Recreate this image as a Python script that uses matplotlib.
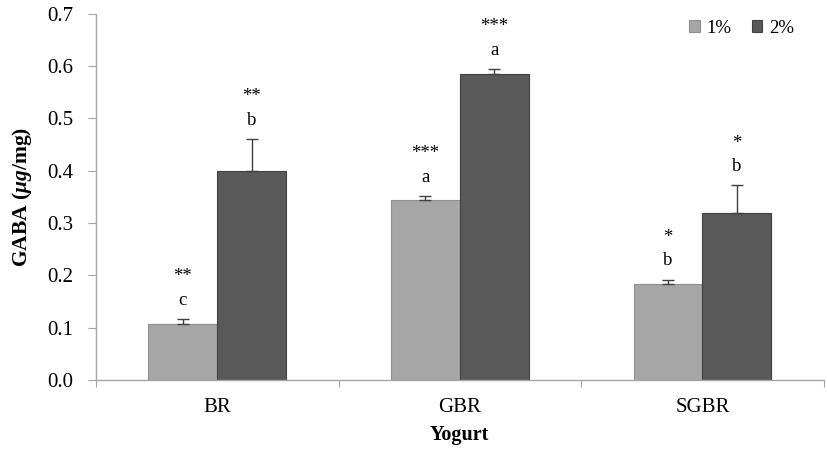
import matplotlib
matplotlib.use('Agg')
import matplotlib.pyplot as plt
import numpy as np

# data
categories = ['BR', 'GBR', 'SGBR']
conc_1 = [0.107, 0.344, 0.184]
conc_2 = [0.399, 0.585, 0.320]
err_1 = [0.009, 0.008, 0.008]
err_2 = [0.061, 0.009, 0.052]
letters_1 = ['c', 'a', 'b']
letters_2 = ['b', 'a', 'b']
stars_1 = ['**', '***', '*']
stars_2 = ['**', '***', '*']
series_names = ['1%', '2%']

plt.rcParams['font.family'] = 'Liberation Serif'
plt.rcParams['mathtext.fontset'] = 'custom'
plt.rcParams['mathtext.it'] = 'Liberation Serif:italic:bold'
plt.rcParams['mathtext.rm'] = 'Liberation Serif:bold'

light = '#a6a6a6'
dark = '#595959'
axis_col = '#a6a6a6'

fig = plt.figure(figsize=(8.27, 4.59), dpi=100)
ax = fig.add_axes([0.116, 0.172, 0.880, 0.798])

x = np.arange(len(categories))
w = 0.284
ax.bar(x - w / 2, conc_1, w, color=light, edgecolor='#8f8f8f', linewidth=0.8,
       label=series_names[0], zorder=2)
ax.bar(x + w / 2, conc_2, w, color=dark, edgecolor='#404040', linewidth=0.8,
       label=series_names[1], zorder=2)

ax.errorbar(x - w / 2, conc_1, yerr=[np.zeros(3), err_1], fmt='none', ecolor='#404040',
            elinewidth=1, capsize=4, capthick=1, zorder=3)
ax.errorbar(x + w / 2, conc_2, yerr=[np.zeros(3), err_2], fmt='none', ecolor='#404040',
            elinewidth=1, capsize=4, capthick=1, zorder=3)

# significance letters and stars
for xs, vals, errs, lets, sts in [(x - w / 2, conc_1, err_1, letters_1, stars_1),
                                  (x + w / 2, conc_2, err_2, letters_2, stars_2)]:
    for xi, v, e, l, s in zip(xs, vals, errs, lets, sts):
        ax.annotate(l, (xi, v + e), xytext=(0, 13.5), textcoords='offset points',
                    ha='center', va='center', fontsize=13.5)
        ax.annotate(s, (xi, v + e), xytext=(0, 30.5), textcoords='offset points',
                    ha='center', va='center', fontsize=13.5)

ax.set_xlim(-0.5, 2.5)
ax.set_ylim(0, 0.7)
ax.set_yticks(np.arange(0, 0.71, 0.1))
ax.set_yticklabels(['%.1f' % v for v in np.arange(0, 0.71, 0.1)], fontsize=15)

ax.set_xticks([-0.5, 0.5, 1.5, 2.5])
ax.set_xticklabels([])
ax.set_xticks(x, minor=True)
ax.set_xticklabels(categories, minor=True, fontsize=15)
ax.tick_params(axis='x', which='minor', length=0, pad=13)
ax.tick_params(axis='x', which='major', length=5, color=axis_col, direction='out')
ax.tick_params(axis='y', length=6, color=axis_col, direction='out', pad=10)

for side in ['top', 'right']:
    ax.spines[side].set_visible(False)
for side in ['left', 'bottom']:
    ax.spines[side].set_color(axis_col)
    ax.spines[side].set_linewidth(1)

ax.set_xlabel('Yogurt', fontsize=14.5, fontweight='bold', labelpad=6)
ax.set_ylabel(r'GABA ($\mathit{\mu g}$/mg)', fontsize=15.5, fontweight='bold', labelpad=10)

ax.legend(loc='upper right', bbox_to_anchor=(0.982, 1.03), ncol=2, frameon=False,
          fontsize=13.5, handlelength=0.55, handleheight=0.55, handletextpad=0.35,
          columnspacing=1.1)

fig.savefig('out.png', dpi=100)
